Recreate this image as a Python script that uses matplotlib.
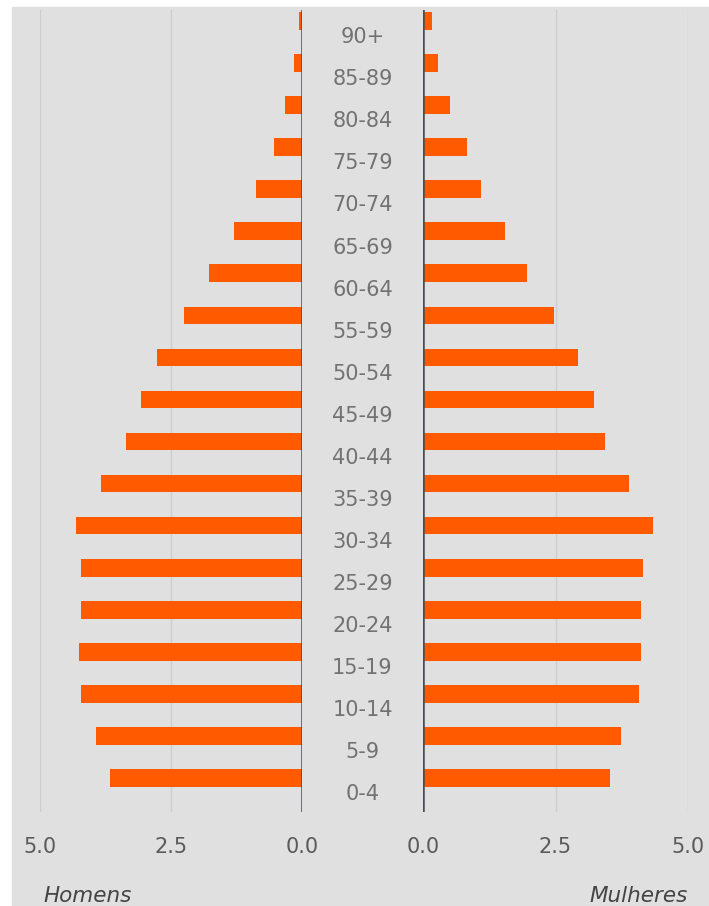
import matplotlib
matplotlib.use("Agg")
import matplotlib.pyplot as plt
from matplotlib.patches import Rectangle
from matplotlib.transforms import blended_transform_factory

# Age groups, bottom to top
age_groups = ["0-4", "5-9", "10-14", "15-19", "20-24", "25-29", "30-34",
              "35-39", "40-44", "45-49", "50-54", "55-59", "60-64",
              "65-69", "70-74", "75-79", "80-84", "85-89", "90+"]
# Share of the population (%)
homens = [3.67, 3.94, 4.21, 4.25, 4.21, 4.21, 4.31,
          3.83, 3.35, 3.08, 2.77, 2.25, 1.77,
          1.29, 0.87, 0.54, 0.32, 0.15, 0.06]
mulheres = [3.52, 3.73, 4.07, 4.11, 4.11, 4.15, 4.34,
            3.89, 3.43, 3.22, 2.93, 2.48, 1.97,
            1.54, 1.09, 0.83, 0.51, 0.28, 0.17]
x_ticks = [0.0, 2.5, 5.0]
x_tick_labels = ["0.0", "2.5", "5.0"]

W, H = 709, 906
fig = plt.figure(figsize=(W / 100, H / 100), dpi=100, facecolor="white")

BG = "#e0e0e0"
BAR = "#ff5a00"
ZERO = "#474c52"
GRID = "#cdcdcd"

fig.patches.append(Rectangle((12 / W, 0), (W - 12) / W, (H - 7) / H,
                             transform=fig.transFigure, color=BG, zorder=-10))

def fx(px):
    return px / W

def fy(py):
    return 1 - py / H

top_px, bot_px = 10, 812
row_px = 42.06
y0_px = 778  # centre of the lowest row
ylim = (-(bot_px - y0_px) / row_px, 18 + (y0_px - 18 * row_px - top_px) / row_px)

axL = fig.add_axes([fx(40), fy(bot_px), fx(302) - fx(40), fy(top_px) - fy(bot_px)])
axR = fig.add_axes([fx(423), fy(bot_px), fx(688) - fx(423), fy(top_px) - fy(bot_px)])

ypos = list(range(len(age_groups)))

for ax, vals, xl in ((axL, homens, (5, 0)), (axR, mulheres, (0, 5))):
    ax.set_facecolor("none")
    ax.set_xlim(*xl)
    ax.set_ylim(*ylim)
    for t in x_ticks[1:]:
        ax.axvline(t, color=GRID, lw=1.0, zorder=1)
    ax.barh(ypos, vals, height=0.42, color=BAR, zorder=2)
    ax.axvline(0, color=ZERO, lw=1.8, zorder=3)
    for s in ax.spines.values():
        s.set_visible(False)
    ax.set_yticks([])
    ax.set_xticks(x_ticks)
    ax.set_xticklabels(x_tick_labels, fontsize=15, color="#5a5a5a")
    ax.tick_params(axis="x", length=0, pad=18)

# Age labels in the centre column
trans = blended_transform_factory(fig.transFigure, axL.transData)
cx = (fx(302) + fx(423)) / 2
for y, lab in zip(ypos, age_groups):
    fig.text(cx, y - 0.53, lab, transform=trans, ha="center", va="baseline",
             fontsize=15, color="#727272")

fig.text(fx(43), fy(902), "Homens", ha="left", va="baseline",
         fontsize=15.5, style="italic", color="#444444")
fig.text(fx(688), fy(902), "Mulheres", ha="right", va="baseline",
         fontsize=15.5, style="italic", color="#444444")

fig.savefig("out.png", dpi=100, facecolor="white")
